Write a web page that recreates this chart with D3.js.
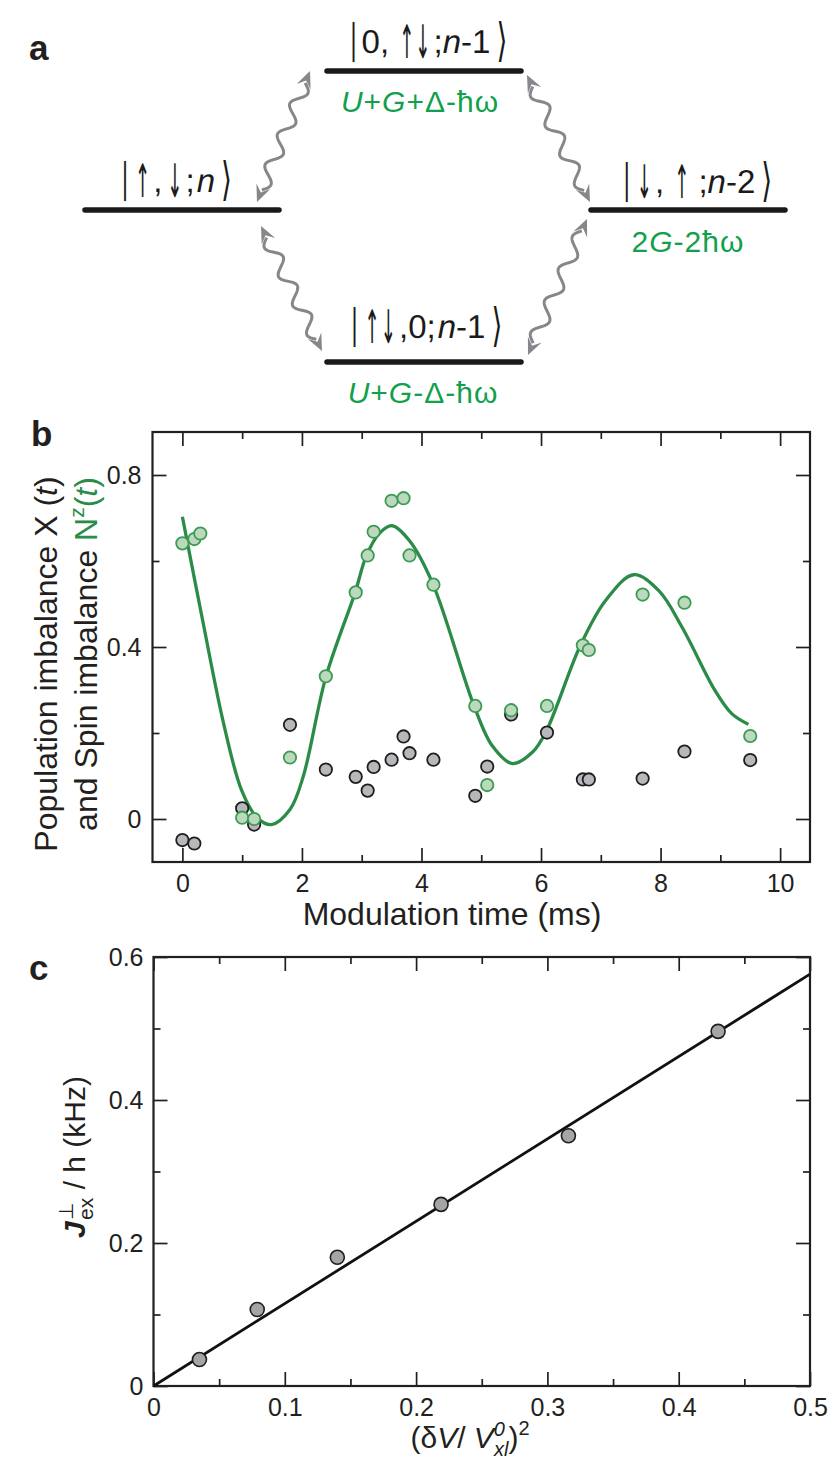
<!DOCTYPE html>
<meta charset="utf-8">
<script src="https://d3js.org/d3.v7.min.js"></script>
<style>
  body { margin: 0; background: #fff; }
  svg { font-family: "Liberation Sans", Arial, sans-serif; }
</style>
<svg id="fig" width="830" height="1479"></svg>
<script>

// ---- panel b : imbalance vs modulation time ----
const tSpin   = [0, 0.2, 0.3, 1.0, 1.2, 1.8, 2.4, 2.9, 3.1, 3.2, 3.5, 3.7, 3.8, 4.2, 4.9, 5.1, 5.5, 6.1, 6.7, 6.8, 7.7, 8.4, 9.5];
const spinImb = [0.641, 0.651, 0.664, 0.003, 0.0, 0.143, 0.332, 0.527, 0.613, 0.668, 0.740, 0.746, 0.613, 0.545, 0.263, 0.079, 0.253, 0.263, 0.404, 0.393, 0.522, 0.503, 0.193];
const tPop    = [0, 0.2, 1.0, 1.2, 1.8, 2.4, 2.9, 3.1, 3.2, 3.5, 3.7, 3.8, 4.2, 4.9, 5.1, 5.5, 6.1, 6.7, 6.8, 7.7, 8.4, 9.5];
const popImb  = [-0.049, -0.057, 0.025, -0.013, 0.219, 0.115, 0.098, 0.066, 0.121, 0.138, 0.192, 0.153, 0.138, 0.054, 0.122, 0.243, 0.201, 0.092, 0.092, 0.094, 0.157, 0.137];
// fitted curve
const fitT = [0, 0.35, 0.69, 0.99, 1.25, 1.49, 1.8, 2.02, 2.4, 2.89, 3.08, 3.3, 3.51, 3.8, 4.19, 4.88, 5.19, 5.52, 5.86, 6.08, 6.66, 7.08, 7.55, 7.97, 8.36, 8.91, 9.19, 9.47];
const fitV = [0.703, 0.454, 0.222, 0.067, 0.003, -0.013, 0.022, 0.098, 0.33, 0.527, 0.613, 0.665, 0.682, 0.647, 0.547, 0.263, 0.169, 0.129, 0.156, 0.202, 0.404, 0.508, 0.568, 0.531, 0.446, 0.299, 0.245, 0.22];
const bXMajor = [0, 2, 4, 6, 8, 10], bXMinor = [1, 3, 5, 7, 9];
const bYMajor = [0, 0.4, 0.8], bYMinor = [0.2, 0.6];

// ---- panel c : exchange coupling vs modulation depth ----
const depth = [0.035, 0.079, 0.140, 0.219, 0.316, 0.430];
const jEx   = [0.037, 0.107, 0.180, 0.254, 0.350, 0.496];
const lineX = [0, 0.5], lineJ = [0, 0.576];
const cXMajor = [0, 0.1, 0.2, 0.3, 0.4, 0.5], cXMinor = [0.05, 0.15, 0.25, 0.35, 0.45];
const cYMajor = [0, 0.2, 0.4, 0.6], cYMinor = [0.1, 0.3, 0.5];

const svg = d3.select("#fig");
const ink = "#231f20", green = "#2b8c48", textGreen = "#12a04c", arrowGray = "#85878a";

// panel letters
[["a", 29, 60], ["b", 31, 446], ["c", 29, 980]].forEach(([s, x, y]) => {
  svg.append("text").attr("x", x).attr("y", y).attr("font-size", 35)
    .attr("font-weight", "bold").attr("fill", ink).text(s);
});

// =================== panel a : level scheme ===================
const levels = [[85, 279, 210], [327, 521, 71], [591, 785, 210], [327, 521, 362]];
svg.append("g").selectAll("line").data(levels).join("line")
  .attr("x1", d => d[0]).attr("x2", d => d[1])
  .attr("y1", d => d[2]).attr("y2", d => d[2])
  .attr("stroke", "#1a1a1a").attr("stroke-width", 5.5).attr("stroke-linecap", "round");

// ket labels: pieces laid out one after another, bars/arrows stretched tall
const BAR = {s: "|", sx: 0.7, sy: 1.3, post: 5};
const ANG = {s: "⟩", font: "DejaVu Sans", sx: 0.85, sy: 1.4, dy: 3, pre: 6};
const UP = {s: "↑", font: "DejaVu Sans", sx: 0.55, sy: 1.4, dy: 5, pre: 2, post: 3};
const DN = {s: "↓", font: "DejaVu Sans", sx: 0.55, sy: 1.4, dy: 5, pre: 2, post: 3};
function ket(cx, y, pieces) {
  const g = svg.append("g");
  let x = 0;
  pieces.forEach(p => {
    const sx = p.sx || 1, sy = p.sy || 1;
    const t = g.append("text").attr("font-size", 33).attr("fill", "#1a1a1a")
      .attr("text-rendering", "geometricPrecision").text(p.s);
    if (p.font) t.attr("font-family", p.font);
    if (p.i) t.attr("font-style", "italic");
    x += p.pre || 0;
    t.attr("transform", `translate(${x},${p.dy || 0}) scale(${sx},${sy})`);
    x += t.node().getComputedTextLength() * sx + (p.post || 0);
  });
  g.attr("transform", `translate(${cx - x / 2},${y})`);
}
ket(177, 192, [BAR, UP, {s: ",", post: 3}, DN, {s: ";", post: 2}, {s: "n", i: 1}, ANG]);
ket(429, 53, [BAR, {s: "0,", post: 8}, UP, {...DN, pre: -2}, {s: ";"}, {s: "n", i: 1}, {s: "-1"}, ANG]);
ket(698, 193, [BAR, DN, {s: ",", post: 8}, UP, {s: ";", pre: 6}, {s: "n", i: 1}, {s: "-2"}, ANG]);
ket(427, 338, [BAR, UP, {...DN, pre: -2}, {s: ",0;", post: 2}, {s: "n", i: 1}, {s: "-1"}, ANG]);

function energy(cx, y, parts) {
  const t = svg.append("text").attr("x", cx).attr("y", y).attr("text-anchor", "middle")
    .attr("font-size", 30).attr("fill", textGreen).attr("letter-spacing", 1);
  parts.forEach(p => {
    const s = t.append("tspan").text(p.s);
    if (p.i) s.attr("font-style", "italic");
  });
}
energy(420, 112, [{s: "U", i: 1}, {s: "+"}, {s: "G", i: 1}, {s: "+Δ-ħω"}]);
energy(688, 252, [{s: "2"}, {s: "G", i: 1}, {s: "-2ħω"}]);
energy(423, 403, [{s: "U", i: 1}, {s: "+"}, {s: "G", i: 1}, {s: "-Δ-ħω"}]);

// wavy double-headed arrows (coupling)
function wavyArrow(p0, p1) {
  const dx = p1[0] - p0[0], dy = p1[1] - p0[1], L = Math.hypot(dx, dy);
  const ux = dx / L, uy = dy / L, nx = -uy, ny = ux;
  const head = 17, hw = 7.5, amp = 6.5, waves = 3.5;
  const a = head - 4, b = L - head + 4, pts = [];
  for (let i = 0; i <= 160; i++) {
    const s = a + (b - a) * i / 160;
    const off = amp * Math.sin((s - a) / (b - a) * waves * 2 * Math.PI);
    pts.push([p0[0] + ux * s + nx * off, p0[1] + uy * s + ny * off]);
  }
  svg.append("path").attr("d", d3.line()(pts)).attr("fill", "none")
    .attr("stroke", arrowGray).attr("stroke-width", 3);
  [[p0, -1], [p1, 1]].forEach(([p, k]) => {
    const bx = p[0] - k * ux * head, by = p[1] - k * uy * head;
    const mx = p[0] - k * ux * head * 0.6, my = p[1] - k * uy * head * 0.6;
    svg.append("path")
      .attr("d", `M${p[0]},${p[1]}L${bx + nx * hw},${by + ny * hw}L${mx},${my}L${bx - nx * hw},${by - ny * hw}Z`)
      .attr("fill", arrowGray);
  });
}
wavyArrow([257, 202], [310, 71]);
wavyArrow([527, 75], [590, 202]);
wavyArrow([261, 226], [322, 351]);
wavyArrow([587, 219], [528, 355]);

// =================== shared frame / axes ===================
function drawFrame(x, y, o) {
  const [xl, xr] = x.range(), [yb, yt] = y.range();
  const g = svg.append("g");
  const fmt = d => String(d);
  const axes = [
    [d3.axisBottom(x).tickValues(o.xMajor).tickSize(-14).tickPadding(o.xPad).tickFormat(fmt), `translate(0,${yb})`],
    [d3.axisBottom(x).tickValues(o.xMinor).tickSize(-7).tickFormat(""), `translate(0,${yb})`],
    [d3.axisTop(x).tickValues(o.xMajor).tickSize(-14).tickFormat(""), `translate(0,${yt})`],
    [d3.axisTop(x).tickValues(o.xMinor).tickSize(-7).tickFormat(""), `translate(0,${yt})`],
    [d3.axisLeft(y).tickValues(o.yMajor).tickSize(-14).tickPadding(o.yPad).tickFormat(fmt), `translate(${xl},0)`],
    [d3.axisLeft(y).tickValues(o.yMinor).tickSize(-7).tickFormat(""), `translate(${xl},0)`],
    [d3.axisRight(y).tickValues(o.yMajor).tickSize(-14).tickFormat(""), `translate(${xr},0)`],
    [d3.axisRight(y).tickValues(o.yMinor).tickSize(-7).tickFormat(""), `translate(${xr},0)`]
  ];
  axes.forEach(([ax, tr]) => {
    const a = g.append("g").attr("transform", tr).call(ax)
      .attr("font-family", "Liberation Sans, Arial, sans-serif").attr("font-size", 25);
    a.select(".domain").remove();
    a.selectAll("line").attr("stroke", ink).attr("stroke-width", 1.7);
    a.selectAll("text").attr("fill", ink);
  });
  g.append("rect").attr("x", xl).attr("y", yt).attr("width", xr - xl).attr("height", yb - yt)
    .attr("fill", "none").attr("stroke", ink).attr("stroke-width", 2.2);
  return g;
}

// =================== panel b ===================
const xB = d3.scaleLinear().domain([-0.5, 10.5]).range([152.5, 810]);
const yB = d3.scaleLinear().domain([-0.1, 0.9]).range([862, 432]);
drawFrame(xB, yB, {xMajor: bXMajor, xMinor: bXMinor, yMajor: bYMajor, yMinor: bYMinor, xPad: 12, yPad: 11});

svg.append("path")
  .attr("d", d3.line().x(d => xB(d[0])).y(d => yB(d[1])).curve(d3.curveCatmullRom.alpha(0.5))(d3.zip(fitT, fitV)))
  .attr("fill", "none").attr("stroke", green).attr("stroke-width", 3.3);

svg.append("g").selectAll("circle").data(d3.zip(tPop, popImb)).join("circle")
  .attr("cx", d => xB(d[0])).attr("cy", d => yB(d[1])).attr("r", 6.2)
  .attr("fill", "#b7b8bb").attr("stroke", "#1e1e1e").attr("stroke-width", 1.8);
svg.append("g").selectAll("circle").data(d3.zip(tSpin, spinImb)).join("circle")
  .attr("cx", d => xB(d[0])).attr("cy", d => yB(d[1])).attr("r", 6.2)
  .attr("fill", "#bcd8bd").attr("stroke", "#3a9c52").attr("stroke-width", 1.8);

svg.append("text").attr("x", 452).attr("y", 925).attr("text-anchor", "middle")
  .attr("font-size", 32).attr("fill", ink).text("Modulation time (ms)");

const yt1 = svg.append("text").attr("transform", "translate(57,664) rotate(-90)")
  .attr("text-anchor", "middle").attr("font-size", 32).attr("fill", ink);
yt1.append("tspan").text("Population imbalance X (");
yt1.append("tspan").attr("font-style", "italic").text("t");
yt1.append("tspan").text(")");

const yt2 = svg.append("text").attr("transform", "translate(97,654) rotate(-90)")
  .attr("text-anchor", "middle").attr("font-size", 32).attr("fill", ink);
yt2.append("tspan").text("and Spin imbalance ");
yt2.append("tspan").attr("fill", green).text("N");
yt2.append("tspan").attr("fill", green).attr("font-size", 21).attr("dy", -13).text("z");
yt2.append("tspan").attr("fill", green).attr("dy", 13).text("(");
yt2.append("tspan").attr("fill", green).attr("font-style", "italic").text("t");
yt2.append("tspan").attr("fill", green).text(")");

// =================== panel c ===================
const xC = d3.scaleLinear().domain([0, 0.5]).range([153.5, 810]);
const yC = d3.scaleLinear().domain([0, 0.6]).range([1386, 957]);
drawFrame(xC, yC, {xMajor: cXMajor, xMinor: cXMinor, yMajor: cYMajor, yMinor: cYMinor, xPad: 12, yPad: 10});

svg.append("path")
  .attr("d", d3.line().x(d => xC(d[0])).y(d => yC(d[1]))(d3.zip(lineX, lineJ)))
  .attr("fill", "none").attr("stroke", "#111").attr("stroke-width", 2.8);

svg.append("g").selectAll("circle").data(d3.zip(depth, jEx)).join("circle")
  .attr("cx", d => xC(d[0])).attr("cy", d => yC(d[1])).attr("r", 7)
  .attr("fill", "#a5a5a7").attr("stroke", "#1e1e1e").attr("stroke-width", 1.6);

const ct = svg.append("text").attr("transform", "translate(85,1157) rotate(-90)")
  .attr("text-anchor", "middle").attr("font-size", 30).attr("fill", ink);
ct.append("tspan").attr("font-style", "italic").attr("font-weight", "bold").text("J");
ct.append("tspan").attr("font-size", 20).attr("font-family", "DejaVu Sans").attr("dy", -12).attr("dx", 1).text("⊥");
ct.append("tspan").attr("font-size", 21).attr("dy", 20).attr("dx", -17).text("ex");
ct.append("tspan").attr("dy", -8).text(" / h (kHz)");

const cx = svg.append("text").attr("x", 470).attr("y", 1448).attr("text-anchor", "middle")
  .attr("font-size", 30).attr("fill", ink);
cx.append("tspan").text("(δ");
cx.append("tspan").attr("font-style", "italic").text("V");
cx.append("tspan").text("/ ");
cx.append("tspan").attr("font-style", "italic").text("V");
cx.append("tspan").attr("font-style", "italic").attr("font-size", 20).attr("dy", -12).text("0");
cx.append("tspan").attr("font-style", "italic").attr("font-size", 20).attr("dy", 20).attr("dx", -11).text("xl");
cx.append("tspan").attr("dy", -8).text(")");
cx.append("tspan").attr("font-size", 20).attr("dy", -13).text("2");

</script>
